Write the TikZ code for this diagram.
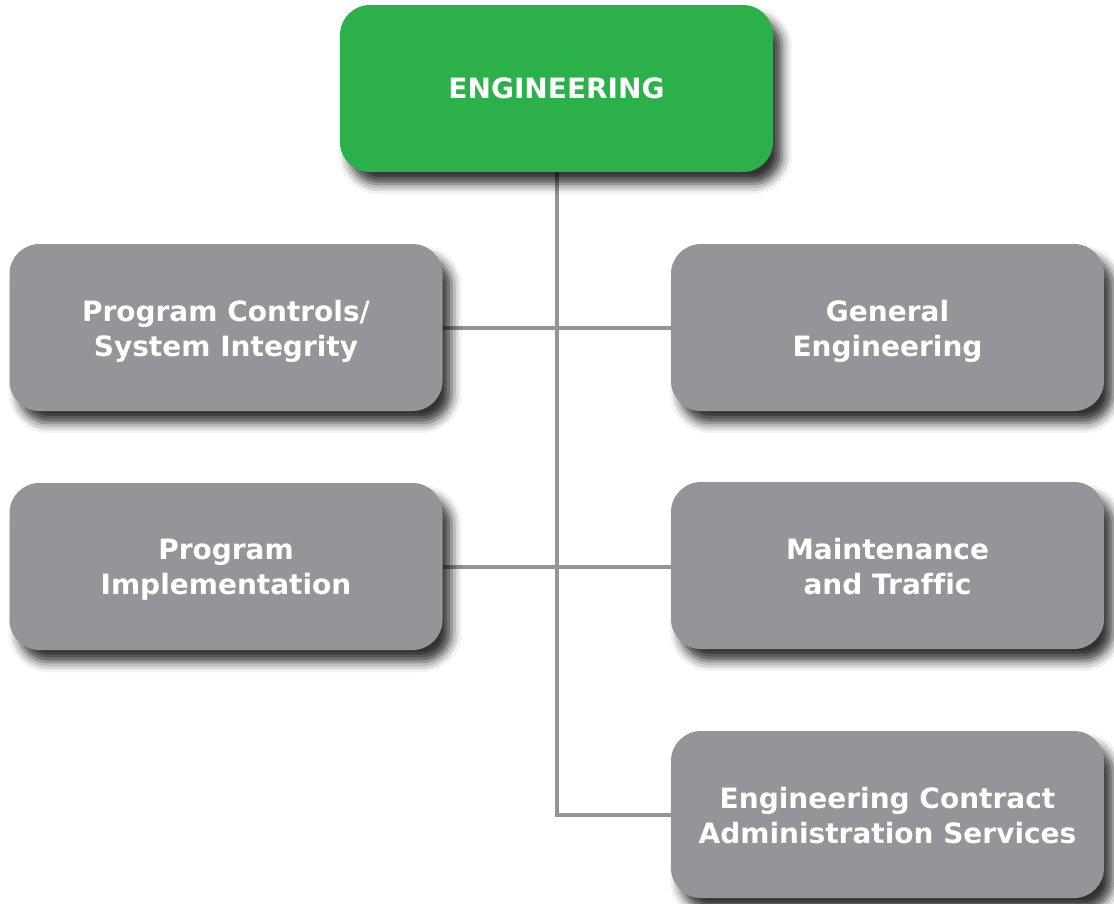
\documentclass[tikz,border=0pt]{standalone}
\usepackage{fontspec}
\setmainfont[Ligatures=NoCommon]{DejaVu Sans}
\usetikzlibrary{shadows.blur,backgrounds}
\definecolor{grn}{HTML}{2BB04A}
\definecolor{gry}{HTML}{939598}
\newcommand{\twolines}[3][0pt]{\raisebox{#1}[\height][\depth]{\begin{tabular}{@{}c@{}}#2\\#3\end{tabular}}}
\begin{document}
\begin{tikzpicture}[x=1pt,y=-1pt,
  box/.style={rounded corners=30pt, minimum width=433pt, minimum height=167pt,
    fill=gry, text=white, font=\bfseries\fontsize{28}{35}\selectfont, inner sep=0pt,
    blur shadow={shadow xshift=9pt, shadow yshift=-12pt, shadow blur radius=10pt, shadow opacity=80}},
  topbox/.style={box, fill=grn},
  link/.style={draw=gry, line width=4pt}]
\useasboundingbox (0,0) rectangle (1114,903);
\node[topbox] (eng) at (556.5,88.5) {ENGINEERING};
\node[box] (pc) at (226,327.5) {\twolines[-4pt]{Program Controls/}{System Integrity}};
\node[box] (ge) at (887.5,327.5) {\twolines[-4pt]{General}{Engineering}};
\node[box] (pi) at (226,566.5) {\twolines[-3pt]{Program}{Implementation}};
\node[box] (mt) at (887.5,565.5) {\twolines[-4pt]{Maintenance}{and Traffic}};
\node[box] (ec) at (887.5,814.5) {\twolines[-4pt]{Engineering Contract}{Administration Services}};
\begin{scope}[on background layer]
\draw[link] (eng.south) |- (ec.west);
\draw[link] (pc.east) -- (ge.west);
\draw[link] (pi.east) -- (pi.east -| mt.west);
\end{scope}
\end{tikzpicture}
\end{document}
